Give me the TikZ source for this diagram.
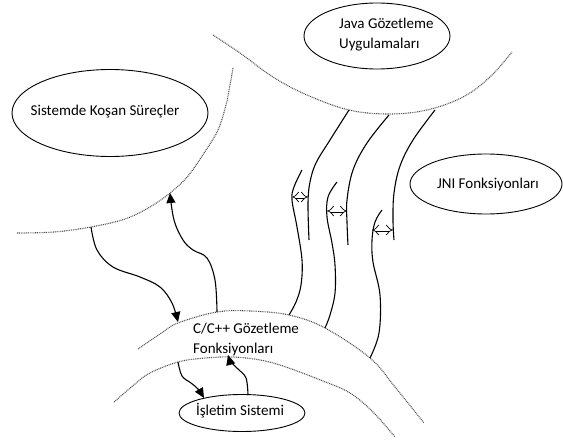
\documentclass[tikz,border=0pt]{standalone}
\usepackage{fontspec}
\setmainfont{Carlito}
\usetikzlibrary{arrows.meta, shapes.geometric}
\begin{document}
\begin{tikzpicture}[x=1pt,y=-1pt,
  ell/.style={draw, ellipse, line width=0.9pt, inner sep=0pt},
  lbl/.style={font=\fontsize{15}{20}\selectfont, inner sep=0pt},
  bound/.style={draw=black!70, line width=1.1pt, dash pattern=on 0.9pt off 0.9pt, smooth, tension=0.6},
  wire/.style={draw, line width=1.1pt, smooth, tension=0.6},
  arr/.style={wire, -{Triangle[length=10pt,width=9pt]}},
  dbl/.style={draw, double, double distance=3pt, line width=0.7pt, {Implies}-{Implies}},
]
\useasboundingbox (0,0) rectangle (563,441);

% ellipses
\node[ell, minimum width=146pt, minimum height=66pt] (java) at (377,36) {};
\node[lbl, align=left, anchor=west] (javatxt) at (339,35) {Java Gözetleme\\Uygulamaları};
\node[ell, minimum width=196pt, minimum height=87pt] (surec) at (110,113) {};
\node[lbl] (surectxt) at (105,112) {Sistemde Koşan Süreçler};
\node[ell, minimum width=152pt, minimum height=60pt] (jni) at (486,184) {};
\node[lbl] (jnitxt) at (488,185) {JNI Fonksiyonları};
\node[ell, minimum width=126pt, minimum height=37pt] (os) at (242,413) {};
\node[lbl] (ostxt) at (240,411) {İşletim Sistemi};
\node[lbl, align=left, anchor=west] (cpptxt) at (193,340) {C/C++ Gözetleme\\Fonksiyonları};

% dotted boundaries
\draw[bound] plot coordinates {(213,35) (240,53) (273,77) (307,95) (349,110) (389,114) (427,110) (463,97) (490,77) (512,52)};
\draw[bound] plot coordinates {(233,68) (230,85) (226,105) (218,130) (206,150) (188,176) (170,193) (150,207) (125,219) (91,227) (54,232) (17,233)};
\draw[bound] plot coordinates {(138,349) (160,334) (178,323) (217,312) (250,311) (289,315) (325,328) (370,358) (395,387) (424,423)};
\draw[bound] plot coordinates {(114,402) (135,384) (150,373) (178,362) (205,358) (233,357) (260,360) (283,366) (323,381) (350,393) (373,412) (395,437)};

% named points
\coordinate (aS) at (91,227);
\coordinate (aE) at (178,322);
\coordinate (bS) at (217,312);
\coordinate (bE) at (170,193);
\coordinate (cS) at (178,362);
\coordinate (cE) at (204,398);
\coordinate (dS) at (248,395);
\coordinate (dE) at (228,355);

% arrows between layers
\draw[arr] plot coordinates {(aS) (97,250) (113,267) (140,277) (160,287) (172,303) (aE)};
\draw[arr] plot coordinates {(bS) (215,280) (207,258) (193,250) (183,240) (174,220) (bE)};
\draw[arr] plot coordinates {(cS) (182,376) (191,383) (198,389) (cE)};
\draw[arr] plot coordinates {(dS) (246,378) (238,369) (231,362) (dE)};

% JNI channels
\coordinate (r1t) at (349,110);
\coordinate (r2t) at (389,115);
\coordinate (r3t) at (435,110);
\coordinate (l1b) at (289,315);
\coordinate (l2b) at (325,328);
\coordinate (l3b) at (370,358);
\draw[wire] plot coordinates {(r1t) (330,140) (316,163) (310,182) (308,203) (309,240)};
\draw[wire] plot coordinates {(302,170) (294,187) (292,200) (297,227) (302,260) (301,285) (296,302) (l1b)};
\draw[wire] plot coordinates {(r2t) (367,143) (353,170) (347,200) (347,222) (348,245)};
\draw[wire] plot coordinates {(337,182) (328,197) (327,217) (332,243) (335,265) (335,293) (330,315) (l2b)};
\draw[wire] plot coordinates {(r3t) (413,140) (400,166) (394,193) (393,220) (394,240)};
\draw[wire] plot coordinates {(382,210) (375,222) (372,240) (373,262) (380,295) (379,333) (l3b)};

\coordinate (d1a) at (292,197);
\coordinate (d1b) at (308,197);
\coordinate (d2a) at (327,211);
\coordinate (d2b) at (347,211);
\coordinate (d3a) at (372,230);
\coordinate (d3b) at (393,230);
\draw[dbl] (d1a) -- (d1b);
\draw[dbl] (d2a) -- (d2b);
\draw[dbl] (d3a) -- (d3b);
\end{tikzpicture}
\end{document}
